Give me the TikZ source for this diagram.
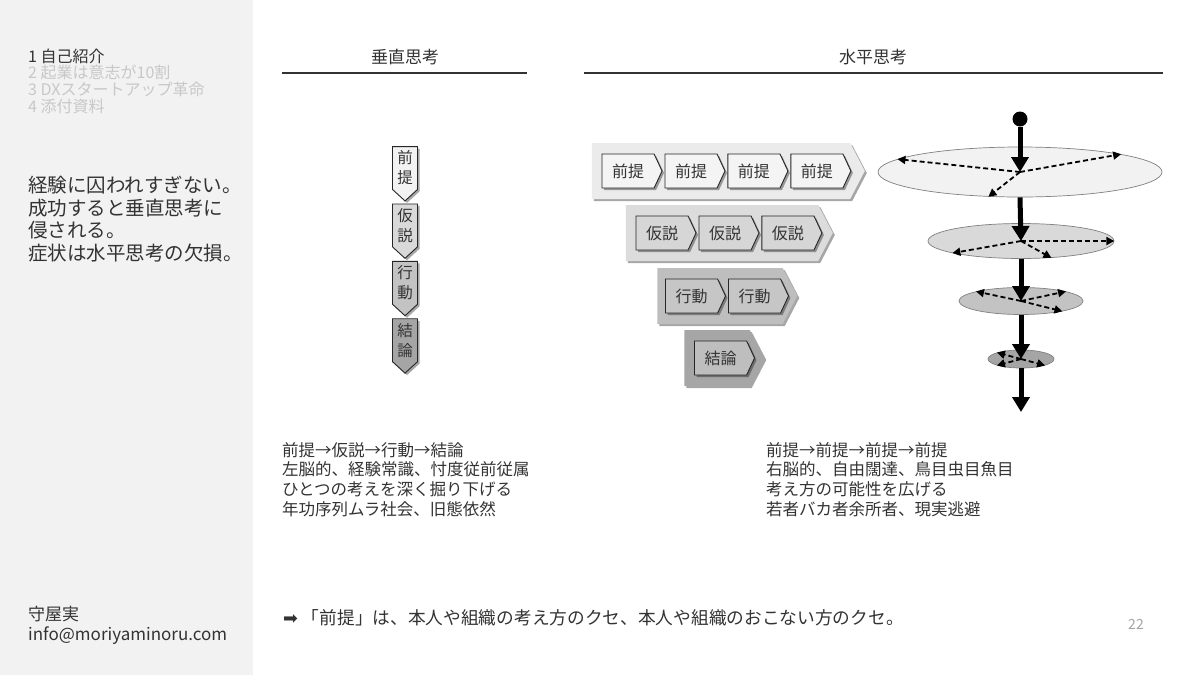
\documentclass[tikz,border=0pt]{standalone}
\usepackage{fontspec}
\setmainfont{Noto Sans CJK JP}
\newfontfamily\symfont{DejaVu Sans}
\usetikzlibrary{positioning,shapes.symbols,shapes.geometric,shadows,arrows.meta}

\definecolor{sidebar}{HTML}{F2F2F2}
\definecolor{ink}{HTML}{333333}
\definecolor{menugray}{HTML}{C8C8C8}
\definecolor{pagegray}{HTML}{A6A6A6}
\definecolor{lv1}{HTML}{F2F2F2}
\definecolor{lv2}{HTML}{D9D9D9}
\definecolor{lv3}{HTML}{C3C3C3}
\definecolor{lv4}{HTML}{A5A5A5}
\definecolor{pn1}{HTML}{EBEBEB}
\definecolor{pn2}{HTML}{DCDCDC}
\definecolor{pn3}{HTML}{BEBEBE}
\definecolor{pn4}{HTML}{A6A6A6}
\definecolor{hc1}{HTML}{F4F4F4}
\definecolor{hc2}{HTML}{D6D6D6}
\definecolor{hc3}{HTML}{C6C6C6}
\definecolor{hc4}{HTML}{BEBEBE}

\tikzset{
  softshadow/.style={drop shadow={shadow xshift=2pt, shadow yshift=-2pt, opacity=0.35, fill=black}},
  menutext/.style={anchor=north west, align=left, inner sep=0pt, text=ink,
    font=\fontsize{16}{16.7}\selectfont},
  leadtext/.style={anchor=north west, align=left, inner sep=0pt, text=ink,
    font=\fontsize{19.5}{22.5}\selectfont},
  headtext/.style={inner sep=0pt, text=ink, font=\fontsize{17}{18}\selectfont},
  bodytext/.style={anchor=north west, align=left, inner sep=0pt, text=ink,
    font=\fontsize{16.5}{19.7}\selectfont},
  headrule/.style={draw=ink, line width=1.8pt},
  vchev/.style={signal, signal to=south, signal pointer angle=95, draw=black!85,
    line width=0.9pt, minimum width=25pt, minimum height=50pt, inner sep=0pt,
    align=center, text=ink, font=\fontsize{15.5}{20}\selectfont, softshadow},
  hchev/.style={signal, signal to=east, signal pointer angle=130, draw=black!85,
    line width=0.9pt, minimum width=60pt, minimum height=34pt, inner sep=0pt,
    text=ink, font=\fontsize{16}{16}\selectfont, softshadow},
  panel/.style={signal, signal to=east, signal pointer angle=125, draw=none,
    minimum height=56pt, inner sep=0pt, softshadow},
  disc/.style={ellipse, draw=black!50, line width=0.7pt, inner sep=0pt},
  stem/.style={circle, fill=black, minimum size=15pt, inner sep=0pt},
  axisarrow/.style={line width=5pt, -{Triangle[length=15pt,width=17pt]}},
  probe/.style={line width=1.8pt, dash pattern=on 5pt off 3pt,
    -{Triangle[length=8pt,width=8pt]}},
}

\begin{document}
\begin{tikzpicture}[x=1pt,y=-1pt]
  \fill[white] (0,0) rectangle (1200,675);
  \fill[sidebar] (0,0) rectangle (253,675);
  \useasboundingbox (0,0) rectangle (1200,675);

  % sidebar
  \node[menutext] (menu) at (28,48.5) {1 自己紹介\\
    \textcolor{menugray}{2 起業は意志が10割}\\
    \textcolor{menugray}{3 DXスタートアップ革命}\\
    \textcolor{menugray}{4 添付資料}};
  \node[leadtext] (lead) at (28,176) {経験に囚われすぎない。\\成功すると垂直思考に\\侵される。\\症状は水平思考の欠損。};
  \node[menutext, font=\fontsize{17}{20}\selectfont] (author) at (28,606) {守屋実\\info@moriyaminoru.com};

  % headings
  \node[headtext] (vhead) at (405,57) {垂直思考};
  \node[headtext] (hhead) at (873,57) {水平思考};
  \draw[headrule] (282,73) -- (527,73);
  \draw[headrule] (584,73) -- (1163,73);

  % vertical thinking
  \node[vchev, fill=lv1] (v1) at (405,168) {前\\提};
  \node[vchev, fill=lv2, below=2pt of v1] (v2) {仮\\説};
  \node[vchev, fill=lv3, below=2pt of v2] (v3) {行\\動};
  \node[vchev, fill=lv4, below=2pt of v3] (v4) {結\\論};

  % horizontal thinking
  \node[panel, fill=pn1, minimum width=273pt] (r1) at (721,171) {};
  \node[hchev, fill=hc1, anchor=west] (a1) at ([xshift=10pt]r1.west) {前提};
  \node[hchev, fill=hc1, right=2pt of a1] (a2) {前提};
  \node[hchev, fill=hc1, right=2pt of a2] (a3) {前提};
  \node[hchev, fill=hc1, right=2pt of a3] (a4) {前提};

  \node[panel, fill=pn2, minimum width=207pt] (r2) at (722,233) {};
  \node[hchev, fill=hc2, anchor=west] (b1) at ([xshift=10pt]r2.west) {仮説};
  \node[hchev, fill=hc2, right=2pt of b1] (b2) {仮説};
  \node[hchev, fill=hc2, right=2pt of b2] (b3) {仮説};

  \node[panel, fill=pn3, minimum width=140pt] (r3) at (720,296) {};
  \node[hchev, fill=hc3, anchor=west] (c1) at ([xshift=8pt]r3.west) {行動};
  \node[hchev, fill=hc3, right=2pt of c1] (c2) {行動};

  \node[panel, fill=pn4, minimum width=80pt] (r4) at (717,358) {};
  \node[hchev, fill=hc4, anchor=west] (d1) at ([xshift=10pt]r4.west) {結論};

  % layers
  \node[disc, fill=lv1, minimum width=284pt, minimum height=50pt] (e1) at (1020,172) {};
  \node[stem] (top) at (1020,119) {};
  \draw[axisarrow] (top) -- (e1.center);
  \draw[probe] (e1.center) -- (e1.174);
  \draw[probe] (e1.center) -- (e1.10);
  \draw[probe] (e1.center) -- (e1.218);

  \node[disc, fill=lv2, minimum width=186pt, minimum height=35pt] (e2) at (1021,241) {};
  \draw[axisarrow] (e1.south) -- (e2.center);
  \draw[probe] (e2.center) -- (e2.190);
  \draw[probe] (e2.center) -- (e2.0);
  \draw[probe] (e2.center) -- (e2.331);

  \node[disc, fill=lv3, minimum width=124pt, minimum height=27pt] (e3) at (1021,301) {};
  \draw[axisarrow] (e2.south) -- (e3.center);
  \draw[probe] (e3.center) -- (e3.168);
  \draw[probe] (e3.center) -- (e3.12);
  \draw[probe] (e3.center) -- (e3.346);

  \node[disc, fill=lv4, minimum width=66pt, minimum height=18pt] (e4) at (1021,359) {};
  \draw[axisarrow] (e3.south) -- (e4.center);
  \draw[probe] (e4.center) -- (e4.165);
  \draw[probe] (e4.center) -- (e4.195);
  \draw[probe] (e4.center) -- (e4.345);
  \coordinate (bottom) at (1021,412);
  \draw[axisarrow] (e4.south) -- (bottom);

  % notes
  \node[bodytext] (vnote) at (282,442) {前提→仮説→行動→結論\\左脳的、経験常識、忖度従前従属\\ひとつの考えを深く掘り下げる\\年功序列ムラ社会、旧態依然};
  \node[bodytext] (hnote) at (766,442) {前提→前提→前提→前提\\右脳的、自由闊達、鳥目虫目魚目\\考え方の可能性を広げる\\若者バカ者余所者、現実逃避};
  \node[bodytext, font=\fontsize{17.7}{20}\selectfont] (remark) at (283,609) {{\symfont ➡} 「前提」は、本人や組織の考え方のクセ、本人や組織のおこない方のクセ。};
  \node[headtext, text=pagegray, font=\fontsize{14}{14}\selectfont] (page) at (1136,624) {22};
\end{tikzpicture}
\end{document}
